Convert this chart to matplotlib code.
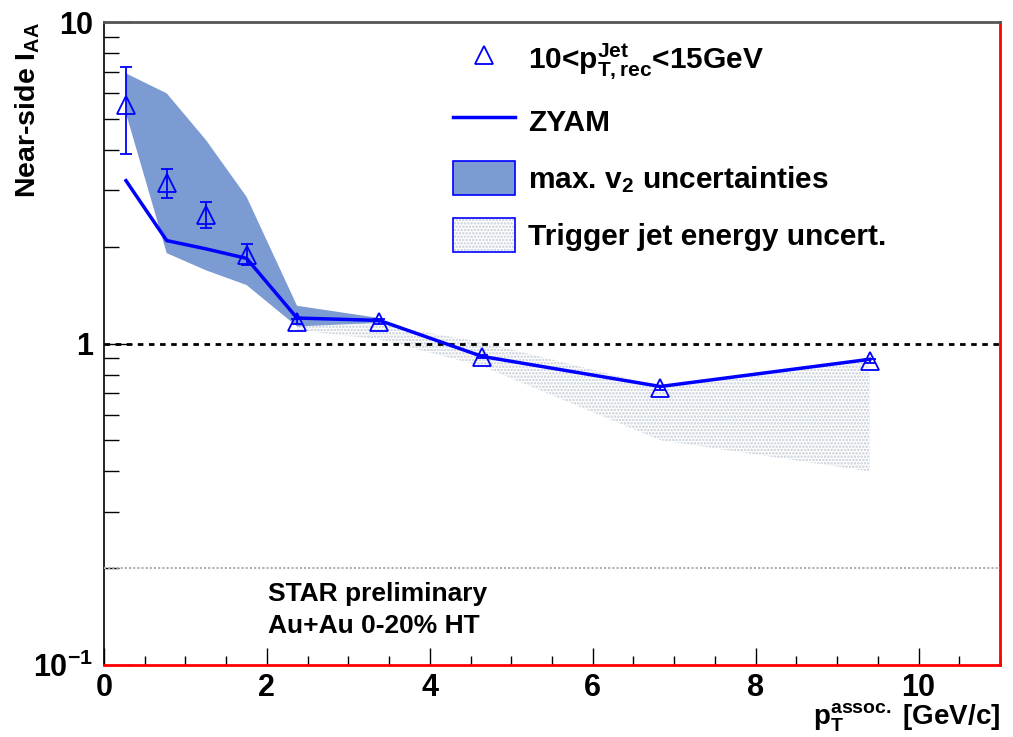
import matplotlib
matplotlib.use('Agg')
import matplotlib.pyplot as plt
from matplotlib.lines import Line2D
from matplotlib.patches import Patch
from matplotlib.legend_handler import HandlerTuple
from matplotlib.ticker import FixedLocator, FixedFormatter, LogLocator, MultipleLocator, NullFormatter

plt.rcParams['font.family'] = ['Liberation Sans', 'DejaVu Sans']
plt.rcParams['font.weight'] = 'bold'
plt.rcParams['axes.labelweight'] = 'bold'
plt.rcParams['mathtext.fontset'] = 'custom'
plt.rcParams['mathtext.rm'] = 'Liberation Sans:bold'
plt.rcParams['mathtext.it'] = 'Liberation Sans:bold'
plt.rcParams['mathtext.bf'] = 'Liberation Sans:bold'
plt.rcParams['mathtext.default'] = 'rm'
plt.rcParams['hatch.linewidth'] = 1.2

# data points 10<pT,rec^Jet<15GeV
pt = [0.27, 0.77, 1.25, 1.75, 2.37, 3.38, 4.64, 6.83, 9.40]
iaa = [5.52, 3.15, 2.51, 1.88, 1.17, 1.17, 0.91, 0.727, 0.882]
err_lo = [1.63, 0.32, 0.22, 0.13, 0.02, 0.02, 0.01, 0.01, 0.01]
err_hi = [1.71, 0.34, 0.25, 0.16, 0.02, 0.02, 0.01, 0.01, 0.01]

# ZYAM
zyam = [3.21, 2.09, 1.97, 1.84, 1.20, 1.18, 0.912, 0.735, 0.893]

# max. v2 uncertainties band
v2_x = [0.27, 0.77, 1.25, 1.75, 2.37, 3.38]
v2_lo = [5.2, 1.91, 1.69, 1.52, 1.13, 1.16]
v2_hi = [6.92, 6.0, 4.30, 2.86, 1.31, 1.20]

# trigger jet energy uncertainty band
jes_x = [2.37, 3.38, 4.64, 6.83, 9.40]
jes_lo = [1.10, 1.03, 0.85, 0.50, 0.40]
jes_hi = [1.19, 1.15, 1.01, 0.735, 0.89]

blue = '#0000ff'
band_col = '#7b9bd2'
dot_col = '#c3ccd6'

fig = plt.figure(figsize=(10.13, 7.37), dpi=100)
ax = fig.add_axes([104 / 1013, 1 - 665 / 737, 896 / 1013, 643 / 737])

ax.fill_between(jes_x, jes_lo, jes_hi, facecolor='none', edgecolor=dot_col,
                hatch='.....', linewidth=0, zorder=1)
ax.fill_between(v2_x, v2_lo, v2_hi, facecolor=band_col, edgecolor='none', zorder=2)
ax.axhline(1.0, color='black', ls=(0, (2, 2)), lw=2, zorder=3)
ax.axhline(0.2, color='#b0b0b0', ls=(0, (1, 1)), lw=1.5, zorder=3)
ax.plot(pt, zyam, color=blue, lw=2.5, zorder=4)
ax.errorbar(pt, iaa, yerr=[err_lo, err_hi], fmt='^', ms=13, mfc='none', mec=blue,
            mew=1.3, ecolor=blue, elinewidth=1.3, capsize=4, capthick=1.3, zorder=5)

ax.set_yscale('log')
ax.set_xlim(0, 11)
ax.set_ylim(0.1, 10)

ax.yaxis.set_major_locator(FixedLocator([0.1, 1, 10]))
ax.yaxis.set_major_formatter(FixedFormatter(['$10^{-1}$', '1', '10']))
ax.yaxis.set_minor_locator(LogLocator(base=10, subs=range(2, 10)))
ax.yaxis.set_minor_formatter(NullFormatter())
ax.xaxis.set_major_locator(MultipleLocator(2))
ax.xaxis.set_minor_locator(MultipleLocator(0.5))

ax.tick_params(axis='y', which='major', direction='in', length=20, width=1, labelsize=22, pad=8)
ax.tick_params(axis='y', which='minor', direction='in', length=11, width=1)
ax.tick_params(axis='x', which='major', direction='in', length=12, width=1, labelsize=22, pad=6)
ax.tick_params(axis='x', which='minor', direction='in', length=6.5, width=1)

ax.spines['bottom'].set_color('red')
ax.spines['bottom'].set_linewidth(2)
ax.spines['right'].set_color('red')
ax.spines['right'].set_linewidth(2)
ax.spines['top'].set_color('#555555')
ax.spines['top'].set_linewidth(2)
ax.spines['left'].set_linewidth(1.2)

ax.set_ylabel('Near-side I$_{AA}$', fontsize=20.5, loc='top')
ax.yaxis.set_label_coords(-0.069, 1.0)
ax.set_xlabel('p$_{T}^{assoc.}$ [GeV/c]', fontsize=20, loc='right')
ax.xaxis.set_label_coords(1.0, -0.056)

ax.text(0.183, 0.0995, 'STAR preliminary', transform=ax.transAxes, fontsize=19)
ax.text(0.183, 0.05, 'Au+Au 0-20% HT', transform=ax.transAxes, fontsize=19)

handles = [
    Line2D([], [], marker='^', ls='none', ms=13, mfc='none', mec=blue, mew=1.3),
    Line2D([], [], color=blue, lw=2.5),
    Patch(facecolor=band_col, edgecolor=blue, lw=1.2),
    (Patch(facecolor='white', edgecolor=dot_col, hatch='.....', lw=0),
     Patch(facecolor='none', edgecolor=blue, lw=1.2)),
]
labels = ['10<p$_{T,rec}^{Jet}$<15GeV', 'ZYAM', 'max. v$_{2}$ uncertainties',
          'Trigger jet energy uncert.']
leg = ax.legend(handles, labels, loc='upper left', bbox_to_anchor=(0.3895, 0.970),
                frameon=False, fontsize=21.5, handlelength=2.07, handleheight=1.38,
                handletextpad=0.45, labelspacing=0.76, borderpad=0, borderaxespad=0,
                handler_map={tuple: HandlerTuple(ndivide=1)})

fig.savefig('out.png', dpi=100)
